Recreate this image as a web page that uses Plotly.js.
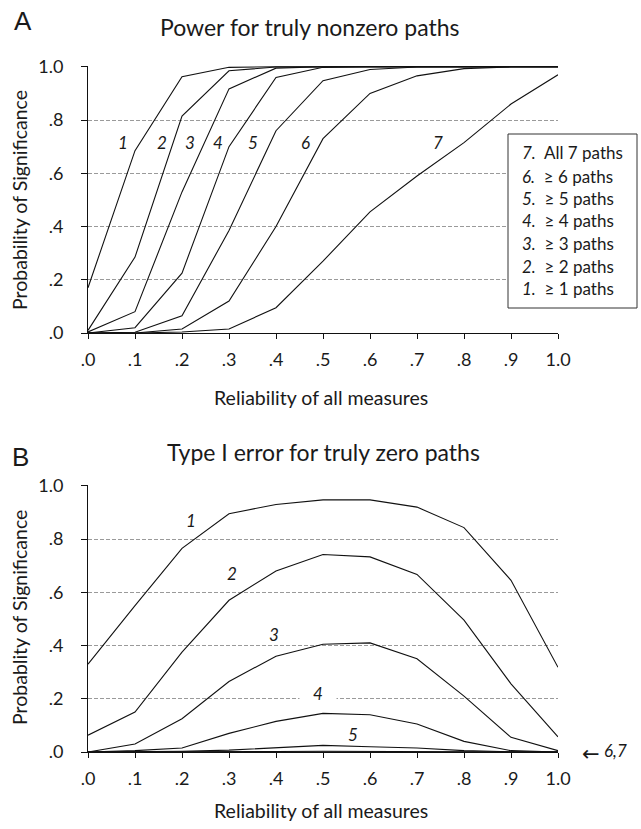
<!DOCTYPE html>
<html>
<head>
<meta charset="utf-8">
<script src="https://cdn.plot.ly/plotly-3.0.1.min.js"></script>
<style>html,body{margin:0;padding:0;background:#fff;}#chart{width:641px;height:829px;}</style>
</head>
<body>
<div id="chart"></div>
<script>
// Reliability of all measures (x)
const reliability = [0, 0.1, 0.2, 0.3, 0.4, 0.5, 0.6, 0.7, 0.8, 0.9, 1.0];
const xTickLabels = [".0", ".1", ".2", ".3", ".4", ".5", ".6", ".7", ".8", ".9", "1.0"];
const yTickVals = [0, 0.2, 0.4, 0.6, 0.8, 1.0];
const yTickLabels = [".0", ".2", ".4", ".6", ".8", "1.0"];

// Panel A: power for truly nonzero paths (>= k paths significant)
const powerAtLeast1 = [0.17, 0.685, 0.963, 0.998, 1.0, 1.0, 1.0, 1.0, 1.0, 1.0, 1.0];
const powerAtLeast2 = [0.01, 0.285, 0.815, 0.985, 0.999, 1.0, 1.0, 1.0, 1.0, 1.0, 1.0];
const powerAtLeast3 = [0.004, 0.08, 0.53, 0.917, 0.995, 1.0, 1.0, 1.0, 1.0, 1.0, 1.0];
const powerAtLeast4 = [0.0, 0.02, 0.225, 0.70, 0.96, 0.998, 1.0, 1.0, 1.0, 1.0, 1.0];
const powerAtLeast5 = [0.0, 0.003, 0.065, 0.385, 0.76, 0.948, 0.99, 0.999, 1.0, 1.0, 1.0];
const powerAtLeast6 = [0.0, 0.0, 0.015, 0.12, 0.40, 0.73, 0.90, 0.966, 0.993, 1.0, 1.0];
const powerAll7     = [0.0, 0.0, 0.004, 0.015, 0.095, 0.27, 0.455, 0.59, 0.715, 0.86, 0.97];

// Panel B: Type I error for truly zero paths (>= k paths significant)
const errAtLeast1 = [0.33, 0.55, 0.765, 0.895, 0.93, 0.947, 0.947, 0.92, 0.843, 0.645, 0.318];
const errAtLeast2 = [0.063, 0.15, 0.375, 0.57, 0.68, 0.742, 0.733, 0.667, 0.495, 0.256, 0.057];
const errAtLeast3 = [0.0, 0.03, 0.125, 0.265, 0.36, 0.405, 0.41, 0.35, 0.21, 0.055, 0.005];
const errAtLeast4 = [0.0, 0.005, 0.015, 0.07, 0.115, 0.145, 0.14, 0.105, 0.04, 0.005, 0.0];
const errAtLeast5 = [0.0, 0.001, 0.003, 0.007, 0.015, 0.025, 0.02, 0.015, 0.005, 0.001, 0.0];
const errAtLeast6 = [0.0, 0.0, 0.0, 0.001, 0.002, 0.003, 0.003, 0.002, 0.001, 0.0, 0.0];
const errAll7     = [0.0, 0.0, 0.0, 0.0, 0.0, 0.0, 0.0, 0.0, 0.0, 0.0, 0.0];

// Curve label positions (data coords)
const powerLabelText = ["1", "2", "3", "4", "5", "6", "7"];
const powerLabelX = [0.075, 0.158, 0.217, 0.277, 0.352, 0.462, 0.745];
const powerLabelY = [0.715, 0.715, 0.715, 0.715, 0.715, 0.715, 0.715];
const errLabelText = ["1", "2", "3", "4", "5"];
const errLabelX = [0.22, 0.307, 0.395, 0.49, 0.564];
const errLabelY = [0.87, 0.67, 0.44, 0.22, 0.067];

const legendNums = ["7.", "6.", "5.", "4.", "3.", "2.", "1."];
const legendTexts = ["All 7 paths", "≥ 6 paths", "≥ 5 paths", "≥ 4 paths", "≥ 3 paths", "≥ 2 paths", "≥ 1 paths"];

const FONT = "Lato, 'Open Sans', sans-serif";
const INK = "#1a1a1a";
const lineStyle = {color: "#111", width: 1.1};

const powerSeries = [powerAtLeast1, powerAtLeast2, powerAtLeast3, powerAtLeast4, powerAtLeast5, powerAtLeast6, powerAll7];
const errSeries = [errAtLeast1, errAtLeast2, errAtLeast3, errAtLeast4, errAtLeast5, errAtLeast6, errAll7];

const traces = [];
powerSeries.forEach(s => traces.push({x: reliability, y: s, xaxis: "x", yaxis: "y", mode: "lines", line: lineStyle, hoverinfo: "skip", showlegend: false}));
errSeries.forEach(s => traces.push({x: reliability, y: s, xaxis: "x2", yaxis: "y2", mode: "lines", line: lineStyle, hoverinfo: "skip", showlegend: false}));

// pixel helpers (plot area: x 88..558, paper y 0 at px 752, 1 at px 66)
const py = p => (752 - p) / 686;
const px = p => (p - 88) / 470;

const TICK_SIZE = 18;
const xAxisBase = {
  range: [0, 1], tickvals: reliability, ticktext: xTickLabels,
  showline: true, linecolor: "#111", linewidth: 1, ticks: "outside", ticklen: 5, tickcolor: "#111",
  showgrid: false, zeroline: false, tickfont: {family: FONT, size: TICK_SIZE, color: INK}, fixedrange: true,
  ticklabelstandoff: 5
};
const yAxisBase = {
  range: [0, 1.003], tickvals: yTickVals, ticktext: yTickLabels,
  showline: true, linecolor: "#111", linewidth: 1, ticks: "outside", ticklen: 6, tickcolor: "#111",
  showgrid: true, gridcolor: "#9a9a9a", gridwidth: 1, griddash: "4px,2px", zeroline: false,
  tickfont: {family: FONT, size: TICK_SIZE, color: INK}, fixedrange: true, ticklabelstandoff: 14
};

const annotations = [];
function addText(text, x, y, opts) {
  annotations.push(Object.assign({text: text, x: x, y: y, xref: "paper", yref: "paper", showarrow: false,
    xanchor: "center", yanchor: "middle", font: {family: FONT, size: 17, color: INK}}, opts || {}));
}
const LETTER_FONT = {family: "'Liberation Sans', Arial, sans-serif", size: 26, color: INK};
// Panel letters and titles
addText("A", px(23), py(21), {font: LETTER_FONT});
addText("B", px(20), py(457), {font: LETTER_FONT});
addText("Power for truly nonzero paths", px(310), py(27), {font: {family: FONT, size: 23, color: INK}});
addText("Type I error for truly zero paths", px(323), py(452), {font: {family: FONT, size: 23, color: INK}});
// Axis titles
const AXT = {family: FONT, size: 19.5, color: INK};
addText("Reliability of all measures", px(321), py(397), {font: AXT});
addText("Reliability of all measures", px(321), py(810), {font: AXT});
addText("Probability of Significance", px(19), py(200), {textangle: -90, font: AXT});
addText("Probablity of Significance", px(19), py(618), {textangle: -90, font: AXT});
// Curve labels
const LBL = {family: FONT, size: 17, color: INK};
powerLabelText.forEach((t, i) => annotations.push({text: "<i>" + t + "</i>", x: powerLabelX[i], y: powerLabelY[i], xref: "x", yref: "y",
  showarrow: false, font: LBL}));
errLabelText.forEach((t, i) => annotations.push(Object.assign({text: "<i>" + t + "</i>", x: errLabelX[i], y: errLabelY[i], xref: "x2", yref: "y2",
  showarrow: false, font: LBL}, t === "4" ? {bgcolor: "#fff", width: 34} : {})));
// 6,7 pointer (outside plot area -> paper coords)
addText("←", px(580), py(754), {xanchor: "left", font: {family: "'DejaVu Sans', sans-serif", size: 21, color: INK}});
addText("<i>6,7</i>", px(602), py(750), {xanchor: "left", font: LBL});
// Legend box text
const legendY = [153, 176, 198, 221, 243, 266, 288];
legendNums.forEach((n, i) => {
  addText("<i>" + n + "</i>  " + legendTexts[i], px(520), py(legendY[i]), {xanchor: "left", font: LBL});
});

const layout = {
  width: 641, height: 829,
  margin: {l: 88, r: 83, t: 66, b: 77},
  paper_bgcolor: "#fff", plot_bgcolor: "#fff",
  showlegend: false,
  xaxis: Object.assign({}, xAxisBase, {anchor: "y", domain: [0, 1]}),
  yaxis: Object.assign({}, yAxisBase, {anchor: "x", domain: [py(333), 1]}),
  xaxis2: Object.assign({}, xAxisBase, {anchor: "y2", domain: [0, 1]}),
  yaxis2: Object.assign({}, yAxisBase, {anchor: "x2", domain: [0, py(485)]}),
  shapes: [
    {type: "rect", xref: "paper", yref: "paper", x0: px(508), x1: px(637), y0: py(308), y1: py(134),
     line: {color: "#333", width: 1}, fillcolor: "#fff", layer: "above"}
  ],
  annotations: annotations
};

Plotly.newPlot("chart", traces, layout, {displayModeBar: false, staticPlot: true});
</script>
</body>
</html>
